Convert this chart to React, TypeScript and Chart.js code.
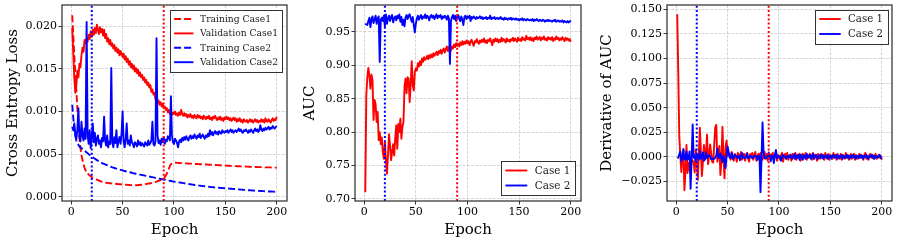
import React, { useEffect, useRef } from "react";
import { Chart, registerables } from "chart.js";

Chart.register(...registerables);

const FONT = '"DejaVu Serif", "Liberation Serif", serif';
const RED = "#ff0000";
const BLUE = "#0000ff";
const GRID = "rgba(176,176,176,0.65)";
const FRAME = "#3a3a3a";
const TEXT = "#000000";

// ---------- categories / ticks ----------
const EPOCHS = Array.from({ length: 200 }, (_, i) => i + 1);
const X_TICKS = [0, 50, 100, 150, 200];
const LOSS_TICKS = [0, 0.005, 0.01, 0.015, 0.02];
const AUC_TICKS = [0.7, 0.75, 0.8, 0.85, 0.9, 0.95];
const DAUC_TICKS = [-0.025, 0, 0.025, 0.05, 0.075, 0.1, 0.125, 0.15];
const MARK_CASE2 = 20;
const MARK_CASE1 = 90;

// ---------- panel 1: cross entropy loss ----------
const TRAIN_LOSS_1 = [
  0.0213, 0.019, 0.0166, 0.0145, 0.0125, 0.0104, 0.0085, 0.0069, 0.0057, 0.0049,
  0.0043, 0.0038, 0.0034, 0.0031, 0.0029, 0.0027, 0.0026, 0.0025, 0.0024, 0.0023,
  0.0022, 0.00215, 0.0021, 0.00205, 0.002, 0.00195, 0.0019, 0.00185, 0.0018, 0.00176,
  0.00172, 0.00169, 0.00166, 0.00164, 0.00162, 0.0016, 0.00159, 0.00158, 0.00157, 0.00156,
  0.00154, 0.00153, 0.00152, 0.0015, 0.00149, 0.00148, 0.00147, 0.00146, 0.00145, 0.00144,
  0.00143, 0.00142, 0.00141, 0.0014, 0.00139, 0.00138, 0.00137, 0.00136, 0.00135, 0.00134,
  0.00134, 0.00134, 0.00135, 0.00135, 0.00136, 0.00137, 0.00138, 0.0014, 0.00142, 0.00144,
  0.00146, 0.00148, 0.0015, 0.00152, 0.00154, 0.00156, 0.00158, 0.0016, 0.00163, 0.00166,
  0.0017, 0.00174, 0.00178, 0.00182, 0.00187, 0.00192, 0.00198, 0.00204, 0.0021, 0.00217,
  0.0023, 0.0025, 0.0027, 0.003, 0.0033, 0.0036, 0.0038, 0.0039, 0.00395, 0.004,
  0.004, 0.00399, 0.00398, 0.00397, 0.00396, 0.00395, 0.00395, 0.00394, 0.00393, 0.00392,
  0.00392, 0.00391, 0.0039, 0.0039, 0.00389, 0.00388, 0.00388, 0.00387, 0.00386, 0.00386,
  0.00385, 0.00384, 0.00384, 0.00383, 0.00382, 0.00382, 0.00381, 0.0038, 0.0038, 0.00379,
  0.00378, 0.00378, 0.00377, 0.00376, 0.00376, 0.00375, 0.00374, 0.00374, 0.00373, 0.00372,
  0.00372, 0.00371, 0.0037, 0.0037, 0.00369, 0.00368, 0.00368, 0.00367, 0.00366, 0.00366,
  0.00365, 0.00364, 0.00364, 0.00363, 0.00362, 0.00362, 0.00361, 0.0036, 0.0036, 0.00359,
  0.00358, 0.00358, 0.00357, 0.00357, 0.00356, 0.00356, 0.00355, 0.00355, 0.00354, 0.00354,
  0.00353, 0.00353, 0.00352, 0.00352, 0.00351, 0.00351, 0.0035, 0.0035, 0.00349, 0.00349,
  0.00348, 0.00348, 0.00348, 0.00347, 0.00347, 0.00346, 0.00346, 0.00346, 0.00345, 0.00345,
  0.00345, 0.00344, 0.00344, 0.00344, 0.00343, 0.00343, 0.00343, 0.00342, 0.00342, 0.00342,
];

const VAL_LOSS_1 = [
  0.0198, 0.0168, 0.014, 0.0122, 0.0131, 0.0148, 0.014, 0.0156, 0.0152, 0.0166,
  0.0175, 0.017, 0.0184, 0.018, 0.0186, 0.0182, 0.019, 0.0185, 0.0194, 0.0188,
  0.0196, 0.019, 0.0198, 0.0192, 0.0202, 0.0196, 0.0191, 0.0199, 0.0193, 0.0197,
  0.0189, 0.0196, 0.0186, 0.0191, 0.0182, 0.0186, 0.0179, 0.0184, 0.0177, 0.018,
  0.0174, 0.0178, 0.0171, 0.0175, 0.0169, 0.0173, 0.0166, 0.0171, 0.0168, 0.0164,
  0.0168, 0.0161, 0.0165, 0.0158, 0.0162, 0.0155, 0.0159, 0.0152, 0.0156, 0.015,
  0.0154, 0.0147, 0.0151, 0.0145, 0.0149, 0.0142, 0.0146, 0.014, 0.0143, 0.0137,
  0.014, 0.0134, 0.0137, 0.0131, 0.0134, 0.0128, 0.0131, 0.0123, 0.0126, 0.012,
  0.0122, 0.0114, 0.0117, 0.011, 0.0113, 0.0108, 0.0111, 0.0106, 0.0109, 0.0104,
  0.0106, 0.0102, 0.0104, 0.0099, 0.0102, 0.0097, 0.01, 0.0096, 0.0099, 0.0097,
  0.01, 0.0096, 0.0098, 0.0095, 0.0099, 0.0096, 0.0102, 0.0097, 0.0095, 0.0098,
  0.0095, 0.0097, 0.0093, 0.0096, 0.0094, 0.0097, 0.0093, 0.0095, 0.0092, 0.0096,
  0.0094, 0.0092, 0.0096, 0.0093, 0.0095, 0.0092, 0.0094, 0.0091, 0.0095, 0.0093,
  0.0091, 0.0094, 0.0092, 0.0095, 0.0091, 0.0093, 0.009, 0.0094, 0.0092, 0.0095,
  0.0092, 0.009, 0.0093, 0.0091, 0.0094, 0.009, 0.0092, 0.0089, 0.0093, 0.0091,
  0.0094, 0.0091, 0.0093, 0.009, 0.0092, 0.0089, 0.0091, 0.0093, 0.009, 0.0092,
  0.0088, 0.0091, 0.0089, 0.0092, 0.0088, 0.009, 0.0087, 0.0091, 0.0089, 0.0088,
  0.009, 0.0087, 0.0089, 0.0091, 0.0088, 0.009, 0.0087, 0.0089, 0.0091, 0.0088,
  0.009, 0.0087, 0.0089, 0.0088, 0.0091, 0.0088, 0.009, 0.0087, 0.0092, 0.0089,
  0.0088, 0.0091, 0.0089, 0.0087, 0.009, 0.0092, 0.0089, 0.0091, 0.009, 0.0094,
];

const TRAIN_LOSS_2 = [
  0.0108, 0.0093, 0.0081, 0.0072, 0.0066, 0.0063, 0.0061, 0.0059, 0.0058, 0.0057,
  0.0056, 0.0055, 0.0054, 0.0053, 0.0052, 0.0051, 0.005, 0.0049, 0.0048, 0.0047,
  0.00462, 0.00454, 0.00446, 0.00438, 0.0043, 0.00423, 0.00416, 0.00409, 0.00402, 0.00395,
  0.0039, 0.00385, 0.0038, 0.00375, 0.0037, 0.00365, 0.0036, 0.00355, 0.0035, 0.00345,
  0.00341, 0.00337, 0.00333, 0.00329, 0.00325, 0.00321, 0.00318, 0.00315, 0.00312, 0.00309,
  0.00305, 0.00302, 0.00299, 0.00296, 0.00293, 0.0029, 0.00287, 0.00284, 0.00281, 0.00278,
  0.00275, 0.00272, 0.0027, 0.00267, 0.00265, 0.00262, 0.0026, 0.00257, 0.00255, 0.00252,
  0.0025, 0.00247, 0.00245, 0.00242, 0.0024, 0.00237, 0.00235, 0.00232, 0.0023, 0.00227,
  0.00225, 0.00222, 0.0022, 0.00217, 0.00215, 0.00212, 0.0021, 0.00207, 0.00205, 0.00202,
  0.002, 0.00197, 0.00195, 0.00192, 0.0019, 0.00187, 0.00185, 0.00182, 0.0018, 0.00178,
  0.00176, 0.00174, 0.00172, 0.0017, 0.00168, 0.00166, 0.00164, 0.00162, 0.0016, 0.00158,
  0.00156, 0.00154, 0.00152, 0.0015, 0.00148, 0.00146, 0.00144, 0.00142, 0.0014, 0.00138,
  0.00137, 0.00135, 0.00134, 0.00132, 0.00131, 0.00129, 0.00128, 0.00126, 0.00125, 0.00123,
  0.00122, 0.0012, 0.00119, 0.00117, 0.00116, 0.00114, 0.00113, 0.00112, 0.0011, 0.00109,
  0.00108, 0.00107, 0.00106, 0.00105, 0.00104, 0.00103, 0.00102, 0.00101, 0.001, 0.00099,
  0.00098, 0.00097, 0.00096, 0.00095, 0.00094, 0.00093, 0.00092, 0.00091, 0.0009, 0.00089,
  0.00088, 0.00087, 0.00086, 0.00085, 0.00084, 0.00083, 0.00082, 0.00081, 0.0008, 0.00079,
  0.00078, 0.00077, 0.00076, 0.00076, 0.00075, 0.00074, 0.00073, 0.00072, 0.00072, 0.00071,
  0.0007, 0.00069, 0.00069, 0.00068, 0.00067, 0.00066, 0.00066, 0.00065, 0.00064, 0.00064,
  0.00063, 0.00062, 0.00062, 0.00061, 0.00061, 0.0006, 0.0006, 0.00059, 0.00059, 0.00058,
];

const VAL_LOSS_2 = [
  0.0082, 0.0078, 0.0086, 0.0072, 0.0068, 0.0079, 0.0104, 0.007, 0.0065, 0.0088,
  0.0072, 0.0066, 0.008, 0.0068, 0.0205, 0.0072, 0.0062, 0.0078, 0.0057, 0.007,
  0.0086, 0.0064, 0.0075, 0.006, 0.0068, 0.0072, 0.0062, 0.0066, 0.0058, 0.0069,
  0.0065, 0.0094, 0.0066, 0.006, 0.0072, 0.0058, 0.0065, 0.0062, 0.0151, 0.0064,
  0.0058, 0.007, 0.0063, 0.0078, 0.0058, 0.0066, 0.007, 0.0062, 0.0074, 0.01,
  0.0065, 0.0058, 0.0068, 0.0086, 0.0062, 0.0066, 0.006, 0.0072, 0.0064, 0.0062,
  0.0058, 0.0064, 0.0062, 0.0059, 0.0066, 0.0061, 0.0064, 0.006, 0.0063, 0.0061,
  0.0059, 0.0064, 0.0062, 0.006, 0.0066, 0.0061, 0.0063, 0.0066, 0.0088, 0.0062,
  0.006, 0.0065, 0.0186, 0.0072, 0.0063, 0.0066, 0.0061, 0.0068, 0.0064, 0.007,
  0.0062, 0.0067, 0.0065, 0.0071, 0.0069, 0.0066, 0.0118, 0.0072, 0.0064, 0.0062,
  0.0068, 0.0066, 0.0063, 0.0058, 0.0065, 0.0067, 0.0064, 0.0069, 0.0066, 0.007,
  0.0067, 0.0071, 0.0068, 0.0066, 0.007, 0.0072, 0.0068, 0.0071, 0.0069, 0.0073,
  0.007, 0.0068, 0.0072, 0.007, 0.0074, 0.0069, 0.0071, 0.0073, 0.007, 0.0068,
  0.0072, 0.007, 0.0074, 0.0071, 0.0078, 0.0073, 0.0076, 0.0072, 0.0075, 0.0077,
  0.0074, 0.0076, 0.0073, 0.0077, 0.0075, 0.0074, 0.0078, 0.0076, 0.0075, 0.0077,
  0.0076, 0.0078, 0.0075, 0.0077, 0.0079, 0.0076, 0.0078, 0.0075, 0.0077, 0.0078,
  0.0076, 0.0078, 0.008, 0.0077, 0.0079, 0.0076, 0.0075, 0.0078, 0.0077, 0.0079,
  0.0077, 0.0075, 0.0078, 0.0076, 0.0079, 0.0077, 0.0075, 0.0078, 0.008, 0.0077,
  0.0079, 0.0076, 0.0078, 0.0084, 0.0079, 0.0077, 0.008, 0.0078, 0.0081, 0.0079,
  0.008, 0.0082, 0.0079, 0.0081, 0.008, 0.0083, 0.0081, 0.008, 0.0082, 0.0083,
];

// ---------- panel 2: AUC ----------
const AUC_1 = [
  0.71, 0.855, 0.882, 0.896, 0.884, 0.865, 0.886, 0.878, 0.818, 0.848,
  0.842, 0.815, 0.83, 0.788, 0.8, 0.782, 0.792, 0.77, 0.76, 0.785,
  0.758, 0.738, 0.765, 0.797, 0.78, 0.758, 0.77, 0.782, 0.765, 0.79,
  0.81, 0.775, 0.812, 0.8, 0.82, 0.79, 0.808, 0.815, 0.868, 0.88,
  0.858, 0.882, 0.88, 0.845, 0.872, 0.906, 0.87, 0.862, 0.89, 0.895,
  0.892, 0.903, 0.898, 0.906, 0.9, 0.91, 0.905, 0.912, 0.908, 0.91,
  0.914, 0.909, 0.915, 0.911, 0.916, 0.912, 0.918, 0.914, 0.917, 0.92,
  0.915, 0.921, 0.918, 0.923, 0.917, 0.922, 0.925, 0.919, 0.924, 0.928,
  0.921, 0.926, 0.93, 0.922, 0.928, 0.925, 0.931, 0.927, 0.933, 0.929,
  0.932, 0.928, 0.934, 0.93, 0.936, 0.931, 0.935, 0.932, 0.937, 0.933,
  0.936, 0.93, 0.935, 0.938, 0.933, 0.929, 0.936, 0.934, 0.939, 0.935,
  0.932, 0.937, 0.934, 0.938, 0.935, 0.94, 0.934, 0.937, 0.933, 0.938,
  0.936, 0.94, 0.935, 0.93, 0.938, 0.935, 0.94, 0.936, 0.939, 0.934,
  0.938, 0.935, 0.941, 0.936, 0.939, 0.937, 0.934, 0.94, 0.936, 0.938,
  0.935, 0.939, 0.937, 0.941, 0.936, 0.94, 0.938, 0.935, 0.941, 0.937,
  0.939, 0.936, 0.942, 0.938, 0.94, 0.937, 0.944, 0.939, 0.941, 0.938,
  0.942, 0.937, 0.94, 0.936, 0.941, 0.939, 0.943, 0.938, 0.94, 0.942,
  0.937, 0.941, 0.939, 0.943, 0.938, 0.94, 0.937, 0.942, 0.939, 0.941,
  0.938, 0.942, 0.936, 0.94, 0.938, 0.943, 0.939, 0.941, 0.937, 0.94,
  0.938, 0.942, 0.939, 0.936, 0.941, 0.938, 0.94, 0.937, 0.939, 0.935,
];

const AUC_2 = [
  0.962, 0.961, 0.96, 0.966, 0.971, 0.957, 0.969, 0.973, 0.963, 0.968,
  0.974, 0.962, 0.97, 0.973, 0.905, 0.968, 0.971, 0.966, 0.974, 0.958,
  0.976, 0.962, 0.97, 0.974, 0.966, 0.972, 0.975, 0.964, 0.97, 0.973,
  0.967, 0.974, 0.97, 0.976, 0.965, 0.972, 0.96, 0.968, 0.958, 0.971,
  0.975, 0.969, 0.974, 0.976, 0.97, 0.965, 0.972, 0.96, 0.949, 0.962,
  0.97, 0.974, 0.968, 0.972, 0.975, 0.969, 0.973, 0.971, 0.976, 0.97,
  0.974, 0.972, 0.967, 0.973, 0.975, 0.971, 0.974, 0.969, 0.973, 0.976,
  0.97, 0.974, 0.972, 0.975, 0.969, 0.973, 0.971, 0.974, 0.972, 0.968,
  0.974, 0.97, 0.902, 0.966, 0.972, 0.975, 0.969, 0.974, 0.966, 0.972,
  0.975, 0.97, 0.966, 0.973, 0.968, 0.96, 0.972, 0.974, 0.969, 0.973,
  0.971, 0.974, 0.966, 0.972, 0.97, 0.973, 0.971, 0.969, 0.972, 0.97,
  0.971, 0.973, 0.97, 0.972, 0.969, 0.971, 0.97, 0.972, 0.969, 0.971,
  0.97, 0.974, 0.969, 0.971, 0.97, 0.972, 0.969, 0.97, 0.971, 0.969,
  0.97, 0.972, 0.969, 0.97, 0.968, 0.971, 0.969, 0.97, 0.968, 0.97,
  0.969, 0.971, 0.968, 0.97, 0.969, 0.968, 0.97, 0.968, 0.969, 0.967,
  0.969, 0.968, 0.97, 0.967, 0.969, 0.968, 0.967, 0.969, 0.968, 0.967,
  0.968, 0.967, 0.969, 0.966, 0.968, 0.967, 0.969, 0.967, 0.966, 0.968,
  0.967, 0.966, 0.968, 0.967, 0.965, 0.967, 0.966, 0.968, 0.966, 0.967,
  0.966, 0.965, 0.967, 0.966, 0.968, 0.965, 0.966, 0.967, 0.965, 0.966,
  0.965, 0.967, 0.964, 0.966, 0.965, 0.964, 0.966, 0.964, 0.965, 0.967,
];

// ---------- panel 3: derivative of AUC ----------
const DAUC_1 = [
  0.145, 0.086, 0.0205, 0.001, -0.0155, 0.001, 0.0065, -0.034, -0.015, 0.012,
  -0.0165, -0.006, -0.0135, -0.015, -0.003, -0.004, -0.006, -0.016, 0.0075, -0.001,
  -0.0235, 0.0035, 0.0295, 0.0075, -0.0195, -0.005, 0.012, -0.0025, 0.004, 0.0225,
  -0.0075, 0.001, 0.0125, 0.004, -0.005, -0.006, 0.0125, 0.03, 0.0325, -0.005,
  0.001, 0.011, -0.0185, -0.004, 0.0305, -0.001, -0.022, 0.01, 0.0165, 0.001,
  0.004, 0.002, -0.003, 0.005, 0.001, -0.004, 0.003, 0.0, -0.005, 0.004,
  0.002, -0.002, 0.005, -0.003, 0.001, 0.003, -0.004, 0.002, 0.004, -0.002,
  -0.005, 0.003, 0.001, 0.004, -0.003, 0.002, 0.005, -0.004, 0.001, 0.003,
  -0.002, 0.004, 0.0, -0.003, 0.002, 0.005, -0.002, 0.003, -0.004, 0.001,
  0.003, -0.003, 0.002, 0.004, -0.002, 0.001, 0.003, -0.004, 0.002, 0.0,
  -0.003, 0.002, 0.004, -0.005, 0.001, 0.003, -0.002, 0.004, -0.003, 0.001,
  0.002, -0.004, 0.003, 0.001, -0.002, 0.004, -0.003, 0.002, 0.0, 0.003,
  -0.004, 0.002, 0.003, -0.002, 0.001, 0.004, -0.003, 0.002, -0.001, 0.003,
  0.001, -0.003, 0.004, -0.002, 0.002, 0.0, -0.004, 0.003, 0.001, -0.002,
  0.003, -0.001, 0.002, -0.003, 0.004, 0.0, -0.002, 0.003, -0.003, 0.002,
  0.001, -0.002, 0.004, -0.001, 0.002, -0.003, 0.003, 0.0, -0.002, 0.003,
  -0.003, 0.002, 0.001, -0.002, 0.004, -0.001, 0.002, -0.003, 0.001, 0.003,
  -0.002, 0.001, 0.003, -0.003, 0.002, 0.0, -0.002, 0.003, -0.001, 0.002,
  0.001, -0.003, 0.002, 0.004, -0.002, 0.001, -0.003, 0.002, 0.003, -0.001,
  0.002, -0.002, 0.001, 0.003, -0.002, 0.0, 0.002, -0.001, 0.001, -0.003,
];

const DAUC_2 = [
  -0.001, -0.001, 0.0025, 0.0055, -0.0045, -0.001, 0.008, -0.003, -0.0025, 0.0055,
  -0.003, -0.002, 0.0055, -0.0325, -0.0025, 0.033, -0.001, 0.0015, -0.004, 0.001,
  0.002, -0.003, 0.006, -0.002, -0.001, 0.0045, -0.004, -0.0025, 0.0045, -0.0015,
  0.0005, 0.0015, 0.001, -0.0025, -0.002, -0.0025, -0.002, -0.001, 0.0015, 0.0085,
  -0.001, -0.0005, 0.0035, -0.002, -0.0055, 0.001, -0.0025, -0.0115, 0.001, 0.0105,
  0.005, -0.001, -0.001, 0.004, -0.002, -0.001, 0.002, 0.0015, -0.0005, -0.001,
  0.001, -0.0035, 0.0005, 0.004, -0.001, -0.0005, -0.001, -0.0005, 0.0035, -0.0015,
  -0.001, 0.001, 0.0005, -0.0015, -0.001, 0.001, 0.0005, 0.0005, -0.003, 0.001,
  0.001, -0.036, -0.002, 0.035, 0.0045, -0.0015, -0.0005, -0.0015, -0.001, 0.0045,
  -0.001, -0.0045, 0.0015, 0.001, -0.0065, 0.002, 0.007, -0.0015, -0.0005, 0.001,
  0.0005, -0.004, -0.001, 0.002, 0.0005, -0.0005, -0.002, 0.0005, 0.0005, -0.0005,
  0.002, -0.001, -0.002, 0.001, 0.003, -0.002, 0.001, -0.001, 0.002, -0.003,
  0.002, 0.0, -0.003, 0.002, 0.001, -0.002, 0.003, -0.001, 0.0, 0.002,
  -0.002, 0.001, 0.003, -0.002, 0.0, 0.002, -0.001, -0.002, 0.001, 0.002,
  -0.001, 0.002, -0.002, 0.001, 0.0, -0.001, 0.002, -0.002, 0.001, 0.001,
  -0.002, 0.001, 0.002, -0.001, 0.0, 0.002, -0.002, 0.001, -0.001, 0.001,
  0.002, -0.002, 0.001, 0.0, -0.001, 0.002, -0.001, 0.001, -0.002, 0.001,
  0.0, 0.002, -0.001, 0.001, -0.002, 0.001, 0.0, -0.001, 0.002, -0.001,
  0.001, -0.002, 0.001, 0.0, 0.002, -0.001, -0.002, 0.001, 0.0, 0.002,
  -0.001, 0.001, -0.002, 0.001, 0.0, -0.001, 0.001, 0.002, -0.001, -0.002,
];

const X_MIN = -8.95;
const X_MAX = 209.95;

type SeriesSpec = { label: string; data: number[]; color: string; dash: number[] };
type PanelSpec = {
  width: number;
  axisW: number;
  padRight: number;
  yMin: number;
  yMax: number;
  yTicks: number[];
  decimals: number;
  yTitle: string;
  yTitlePad: number;
  series: SeriesSpec[];
  legend: { fontSize: number; rowH: number; inset: number; loc: "upper" | "lower" };
};

const DASH = [7, 3];

const PANELS: PanelSpec[] = [
  {
    width: 295, axisW: 62, padRight: 8, yMin: -0.0005, yMax: 0.0225, yTicks: LOSS_TICKS,
    decimals: 3, yTitle: "Cross Entropy Loss", yTitlePad: 3.7,
    series: [
      { label: "Training Case1", data: TRAIN_LOSS_1, color: RED, dash: DASH },
      { label: "Validation Case1", data: VAL_LOSS_1, color: RED, dash: [] },
      { label: "Training Case2", data: TRAIN_LOSS_2, color: BLUE, dash: DASH },
      { label: "Validation Case2", data: VAL_LOSS_2, color: BLUE, dash: [] },
    ],
    legend: { fontSize: 9.2, rowH: 14.4, inset: 4.8, loc: "upper" },
  },
  {
    width: 300, axisW: 60, padRight: 14, yMin: 0.697, yMax: 0.99, yTicks: AUC_TICKS,
    decimals: 2, yTitle: "AUC", yTitlePad: 6,
    series: [
      { label: "Case 1", data: AUC_1, color: RED, dash: [] },
      { label: "Case 2", data: AUC_2, color: BLUE, dash: [] },
    ],
    legend: { fontSize: 10.4, rowH: 15, inset: 6, loc: "lower" },
  },
  {
    width: 302, axisW: 72, padRight: 5, yMin: -0.045, yMax: 0.1545, yTicks: DAUC_TICKS,
    decimals: 3, yTitle: "Derivative of AUC", yTitlePad: 2.7,
    series: [
      { label: "Case 1", data: DAUC_1, color: RED, dash: [] },
      { label: "Case 2", data: DAUC_2, color: BLUE, dash: [] },
    ],
    legend: { fontSize: 10.2, rowH: 15, inset: 4.5, loc: "upper" },
  },
];

const mplPlugin = {
  id: "mpl",
  afterDatasetsDraw(chart: any, _args: any, opts: any) {
    const { ctx, chartArea: a } = chart;
    ctx.save();
    ctx.setLineDash([]);
    ctx.strokeStyle = FRAME;
    ctx.lineWidth = 1.3;
    ctx.strokeRect(a.left, a.top, a.right - a.left, a.bottom - a.top);

    const fs = opts.fontSize;
    const items = opts.items as SeriesSpec[];
    ctx.font = `${fs}px ${FONT}`;
    const textW = Math.max(...items.map((it) => ctx.measureText(it.label).width));
    const bp = 0.45 * fs;
    const hl = 2.1 * fs;
    const tp = 0.72 * fs;
    const w = bp + hl + tp + textW + bp;
    const h = items.length * opts.rowH + 4;
    const x = a.right - opts.inset - w;
    const y = opts.loc === "lower" ? a.bottom - opts.inset - h : a.top + opts.inset;
    ctx.fillStyle = "rgba(255,255,255,0.85)";
    ctx.fillRect(x, y, w, h);
    ctx.strokeStyle = "#333333";
    ctx.lineWidth = 1;
    ctx.strokeRect(Math.round(x) + 0.5, Math.round(y) + 0.5, Math.round(w), Math.round(h));
    items.forEach((it, i) => {
      const cy = y + 2 + opts.rowH * (i + 0.5);
      ctx.beginPath();
      ctx.setLineDash(it.dash);
      ctx.lineCap = "butt";
      ctx.strokeStyle = it.color;
      ctx.lineWidth = 1.9;
      ctx.moveTo(x + bp, cy);
      ctx.lineTo(x + bp + hl, cy);
      ctx.stroke();
      ctx.setLineDash([]);
      ctx.fillStyle = "#1a1a1a";
      ctx.textBaseline = "middle";
      ctx.textAlign = "left";
      ctx.fillText(it.label, x + bp + hl + tp, cy + 0.5);
    });
    ctx.restore();
  },
};

function buildConfig(p: PanelSpec): any {
  const n = p.series.length;
  const datasets: any[] = p.series.map((s, i) => ({
    label: s.label,
    data: EPOCHS.map((e, k) => ({ x: e, y: s.data[k] })),
    borderColor: s.color,
    backgroundColor: s.color,
    borderWidth: 1.9,
    borderDash: s.dash,
    borderCapStyle: "butt",
    borderJoinStyle: "round",
    pointRadius: 0,
    fill: false,
    tension: 0,
    order: 10 + n - i,
  }));
  const marks: [number, string][] = [
    [MARK_CASE2, BLUE],
    [MARK_CASE1, RED],
  ];
  marks.forEach(([mx, c]) =>
    datasets.push({
      label: "",
      data: [
        { x: mx, y: p.yMin },
        { x: mx, y: p.yMax },
      ],
      borderColor: c,
      borderWidth: 2,
      borderDash: [2, 2.2],
      borderCapStyle: "butt",
      pointRadius: 0,
      fill: false,
      order: 1,
    })
  );

  const tickFont = { family: FONT, size: 11 };
  const titleFont = { family: FONT, size: 15 };

  return {
    type: "line",
    data: { datasets },
    plugins: [mplPlugin],
    options: {
      responsive: false,
      animation: false,
      events: [],
      layout: { padding: { left: 0, top: 5, right: p.padRight, bottom: 0 } },
      plugins: {
        legend: { display: false },
        tooltip: { enabled: false },
        mpl: { items: p.series, ...p.legend },
      },
      scales: {
        x: {
          type: "linear",
          min: X_MIN,
          max: X_MAX,
          bounds: "data",
          afterBuildTicks: (s: any) => {
            s.ticks = X_TICKS.map((v) => ({ value: v }));
          },
          afterFit: (s: any) => {
            s.height = 43;
            s.paddingLeft = 0;
            s.paddingRight = 0;
          },
          ticks: {
            font: tickFont,
            color: TEXT,
            padding: 1.5,
            maxRotation: 0,
            autoSkip: false,
            callback: (v: any) => String(v),
          },
          grid: {
            color: GRID,
            lineWidth: 0.8,
            tickLength: 3.5,
            tickColor: "#333333",
            tickWidth: 1,
            tickBorderDash: [],
          },
          border: { display: false, dash: [3, 1.3] },
          title: {
            display: true,
            text: "Epoch",
            font: titleFont,
            color: TEXT,
            padding: { top: 0, bottom: 5 },
          },
        },
        y: {
          type: "linear",
          min: p.yMin,
          max: p.yMax,
          bounds: "data",
          afterBuildTicks: (s: any) => {
            s.ticks = p.yTicks.map((v) => ({ value: v }));
          },
          afterFit: (s: any) => {
            s.width = p.axisW;
            s.paddingTop = 0;
            s.paddingBottom = 0;
          },
          ticks: {
            font: tickFont,
            color: TEXT,
            padding: 1.5,
            autoSkip: false,
            callback: (v: any) => Number(v).toFixed(p.decimals).replace("-", "\u2212"),
          },
          grid: {
            color: GRID,
            lineWidth: 0.8,
            tickLength: 3.5,
            tickColor: "#333333",
            tickWidth: 1,
            tickBorderDash: [],
          },
          border: { display: false, dash: [3, 1.3] },
          title: {
            display: true,
            text: p.yTitle,
            font: titleFont,
            color: TEXT,
            padding: { top: p.yTitlePad, bottom: 0 },
          },
        },
      },
    },
  };
}

export default function App() {
  const r0 = useRef<HTMLCanvasElement | null>(null);
  const r1 = useRef<HTMLCanvasElement | null>(null);
  const r2 = useRef<HTMLCanvasElement | null>(null);

  useEffect(() => {
    const refs = [r0, r1, r2];
    const charts = PANELS.map((p, i) => new Chart(refs[i].current as HTMLCanvasElement, buildConfig(p)));
    return () => charts.forEach((c) => c.destroy());
  }, []);

  let left = 0;
  const refs = [r0, r1, r2];
  return (
    <div
      style={{
        position: "fixed",
        left: 0,
        top: 0,
        width: 897,
        height: 244,
        background: "#ffffff",
        overflow: "hidden",
      }}
    >
      {PANELS.map((p, i) => {
        const l = left;
        left += p.width;
        return (
          <canvas
            key={i}
            ref={refs[i]}
            width={p.width}
            height={244}
            style={{ position: "absolute", left: l, top: 0, width: p.width, height: 244 }}
          />
        );
      })}
    </div>
  );
}
